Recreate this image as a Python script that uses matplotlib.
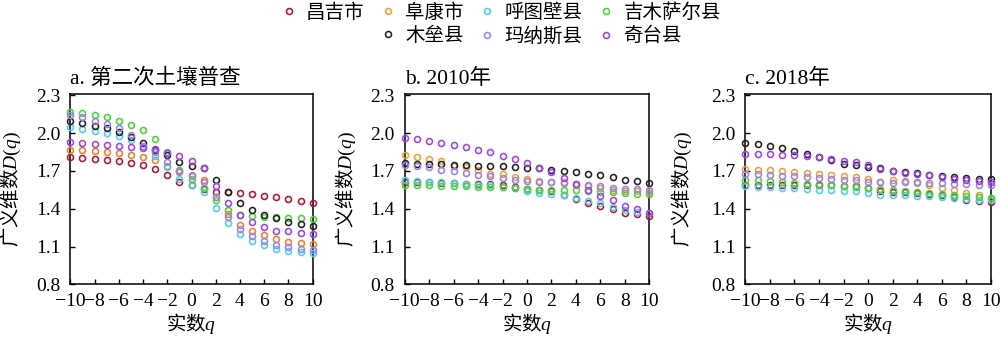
import matplotlib
matplotlib.use("Agg")
import matplotlib.pyplot as plt
from matplotlib.lines import Line2D
from matplotlib.ticker import FormatStrFormatter

# ---------------------------------------------------------------- data
q = list(range(-10, 11))

counties = ["昌吉市", "阜康市", "呼图壁县", "吉木萨尔县", "木垒县", "玛纳斯县", "奇台县"]

panel_titles = ["a. 第二次土壤普查", "b. 2010年", "c. 2018年"]

# generalized dimension D(q), second soil survey
survey2 = {
    "昌吉市":   [1.810, 1.800, 1.797, 1.790, 1.780, 1.763, 1.745, 1.713, 1.666, 1.610, 1.585,
                 1.555, 1.537, 1.530, 1.527, 1.516, 1.500, 1.490, 1.477, 1.458, 1.448],
    "阜康市":   [1.868, 1.863, 1.858, 1.850, 1.842, 1.829, 1.810, 1.784, 1.737, 1.690, 1.658,
                 1.627, 1.490, 1.359, 1.274, 1.222, 1.190, 1.164, 1.140, 1.132, 1.124],
    "呼图壁县": [2.050, 2.034, 2.018, 2.000, 1.979, 1.945, 1.890, 1.820, 1.730, 1.634, 1.587,
                 1.535, 1.408, 1.290, 1.200, 1.148, 1.111, 1.085, 1.069, 1.058, 1.048],
    "吉木萨尔县": [2.166, 2.158, 2.142, 2.124, 2.100, 2.066, 2.021, 1.953, 1.847, 1.710, 1.640,
                 1.561, 1.469, 1.387, 1.350, 1.343, 1.337, 1.332, 1.329, 1.324, 1.319],
    "木垒县":   [2.097, 2.082, 2.060, 2.037, 2.008, 1.971, 1.924, 1.865, 1.824, 1.771, 1.742,
                 1.720, 1.632, 1.532, 1.450, 1.390, 1.348, 1.324, 1.293, 1.279, 1.264],
    "玛纳斯县": [2.145, 2.124, 2.100, 2.074, 2.040, 1.987, 1.900, 1.850, 1.774, 1.700, 1.666,
                 1.615, 1.490, 1.338, 1.237, 1.185, 1.145, 1.114, 1.100, 1.085, 1.074],
    "奇台县":   [1.929, 1.918, 1.913, 1.908, 1.900, 1.892, 1.883, 1.876, 1.840, 1.822, 1.777,
                 1.720, 1.584, 1.447, 1.350, 1.293, 1.258, 1.227, 1.222, 1.206, 1.198],
}

# generalized dimension D(q), 2010
year2010 = {
    "昌吉市":   [1.615, 1.615, 1.612, 1.608, 1.605, 1.600, 1.597, 1.593, 1.587, 1.575, 1.560,
                 1.550, 1.540, 1.508, 1.480, 1.447, 1.426, 1.400, 1.370, 1.355, 1.340],
    "阜康市":   [1.829, 1.810, 1.795, 1.776, 1.740, 1.734, 1.711, 1.679, 1.672, 1.650, 1.634,
                 1.618, 1.615, 1.610, 1.587, 1.579, 1.563, 1.553, 1.545, 1.539, 1.533],
    "呼图壁县": [1.628, 1.624, 1.613, 1.610, 1.603, 1.597, 1.590, 1.585, 1.575, 1.566, 1.545,
                 1.526, 1.520, 1.508, 1.485, 1.463, 1.445, 1.416, 1.387, 1.375, 1.365],
    "吉木萨尔县": [1.592, 1.588, 1.587, 1.584, 1.582, 1.579, 1.576, 1.574, 1.570, 1.566, 1.556,
                 1.550, 1.547, 1.548, 1.547, 1.540, 1.535, 1.530, 1.526, 1.520, 1.515],
    "木垒县":   [1.760, 1.758, 1.756, 1.754, 1.750, 1.745, 1.742, 1.739, 1.736, 1.732, 1.726,
                 1.720, 1.705, 1.698, 1.690, 1.677, 1.666, 1.650, 1.632, 1.618, 1.605],
    "玛纳斯县": [1.750, 1.737, 1.729, 1.710, 1.700, 1.687, 1.671, 1.658, 1.645, 1.632, 1.620,
                 1.615, 1.610, 1.605, 1.595, 1.588, 1.577, 1.566, 1.560, 1.556, 1.550],
    "奇台县":   [1.960, 1.950, 1.937, 1.921, 1.905, 1.887, 1.868, 1.847, 1.818, 1.792, 1.760,
                 1.720, 1.690, 1.643, 1.598, 1.553, 1.500, 1.466, 1.426, 1.400, 1.368],
}

# generalized dimension D(q), 2018
year2018 = {
    "昌吉市":   [1.592, 1.592, 1.591, 1.590, 1.590, 1.590, 1.589, 1.587, 1.584, 1.578, 1.563,
                 1.540, 1.534, 1.532, 1.526, 1.516, 1.508, 1.495, 1.470, 1.462, 1.455],
    "阜康市":   [1.713, 1.710, 1.705, 1.700, 1.692, 1.684, 1.679, 1.671, 1.660, 1.653, 1.636,
                 1.615, 1.628, 1.618, 1.606, 1.587, 1.568, 1.547, 1.529, 1.508, 1.485],
    "呼图壁县": [1.579, 1.574, 1.571, 1.568, 1.563, 1.558, 1.553, 1.547, 1.542, 1.539, 1.525,
                 1.508, 1.508, 1.508, 1.505, 1.503, 1.495, 1.485, 1.478, 1.472, 1.468],
    "吉木萨尔县": [1.632, 1.626, 1.621, 1.613, 1.605, 1.600, 1.595, 1.587, 1.579, 1.574, 1.566,
                 1.560, 1.547, 1.542, 1.534, 1.526, 1.521, 1.513, 1.503, 1.495, 1.488],
    "木垒县":   [1.924, 1.910, 1.897, 1.882, 1.858, 1.837, 1.812, 1.784, 1.758, 1.745, 1.730,
                 1.720, 1.703, 1.690, 1.680, 1.671, 1.660, 1.653, 1.645, 1.640, 1.634],
    "玛纳斯县": [1.679, 1.674, 1.668, 1.663, 1.658, 1.653, 1.647, 1.639, 1.632, 1.626, 1.613,
                 1.610, 1.608, 1.613, 1.610, 1.605, 1.602, 1.598, 1.595, 1.592, 1.587],
    "奇台县":   [1.837, 1.834, 1.832, 1.829, 1.824, 1.816, 1.808, 1.795, 1.782, 1.771, 1.750,
                 1.718, 1.700, 1.687, 1.679, 1.671, 1.652, 1.640, 1.630, 1.620, 1.613],
}

y_ticks = [0.8, 1.1, 1.4, 1.7, 2.0, 2.3]
x_ticks = [-10, -8, -6, -4, -2, 0, 2, 4, 6, 8, 10]

# ---------------------------------------------------------------- style
colors = {
    "昌吉市": "#b8142c",
    "阜康市": "#f0a030",
    "呼图壁县": "#48d0f0",
    "吉木萨尔县": "#44d832",
    "木垒县": "#222222",
    "玛纳斯县": "#9a80f2",
    "奇台县": "#a040f0",
}
# the survey panel renders Fukang in a deeper orange
panel_colors = [dict(colors, **{"阜康市": "#f27e28"}), colors, colors]

plt.rcParams["font.family"] = ["Liberation Serif", "Noto Sans CJK SC"]
plt.rcParams["mathtext.fontset"] = "custom"
plt.rcParams["mathtext.rm"] = "Liberation Serif"
plt.rcParams["mathtext.it"] = "Liberation Serif:italic"
plt.rcParams["axes.unicode_minus"] = True

# labels mixing CJK text with italic symbols: plain part in the CJK face
cjk_label = dict(family="Noto Sans CJK SC", fontsize=14)

fig = plt.figure(figsize=(10, 3.41), dpi=100)

bottom, height = 0.1657, 0.5586
lefts = [0.0703, 0.4047, 0.7453]
widths = [0.2424, 0.2446, 0.2455]
label_x = [-0.195, -0.19, -0.21]

datasets = [survey2, year2010, year2018]

for i, data in enumerate(datasets):
    ax = fig.add_axes([lefts[i], bottom, widths[i], height])
    for name in counties:
        ax.plot(q, data[name], linestyle="none", marker="o", markersize=4.3,
                markerfacecolor="none", markeredgewidth=1.15,
                markeredgecolor=panel_colors[i][name], clip_on=False, zorder=3)
    ax.set_xlim(-10, 10)
    ax.set_ylim(0.8, 2.31)
    ax.set_xticks(x_ticks)
    ax.set_yticks(y_ticks)
    ax.yaxis.set_major_formatter(FormatStrFormatter("%.1f"))
    ax.tick_params(direction="in", length=3.5, width=1.0, labelsize=14,
                   top=False, right=False)
    ax.tick_params(axis="y", pad=7)
    ax.tick_params(axis="x", pad=6)
    for sp in ax.spines.values():
        sp.set_linewidth(1.1)
    ax.set_title(panel_titles[i], loc="left", fontsize=15.5, pad=7)
    ax.set_xlabel(r"实数$\mathit{q}$", labelpad=1, **cjk_label)
    ax.set_ylabel(r"广义维数$\mathit{D(q)}$", **cjk_label)
    ax.yaxis.set_label_coords(label_x[i], 0.5)

handles = []
for name in counties:
    handles.append(Line2D([], [], linestyle="none", marker="o", markersize=4.3,
                          markerfacecolor="none", markeredgewidth=1.15,
                          markeredgecolor=colors[name], label=name))
blank = Line2D([], [], linestyle="none", label=" ")
# column-major fill: first column holds only 昌吉市
order = [handles[0], blank, handles[1], handles[4], handles[2], handles[5],
         handles[3], handles[6]]
fig.legend(handles=order, labels=[h.get_label() for h in order], ncol=4,
           loc="center", bbox_to_anchor=(0.5, 0.928), frameon=False,
           fontsize=14, handlelength=1.0, handletextpad=0.4,
           columnspacing=0.7, labelspacing=0.25, borderpad=0.1)

fig.savefig("out.png", dpi=100)
